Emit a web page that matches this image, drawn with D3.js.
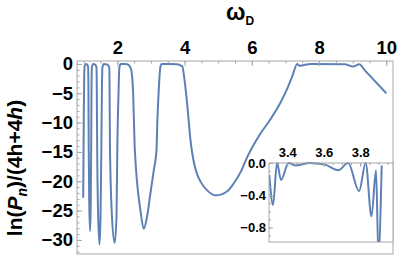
<!DOCTYPE html>
<html>
<head>
<meta charset="utf-8">
<script src="https://cdn.jsdelivr.net/npm/d3@7"></script>
<style>
  body { margin: 0; background: #fff; }
  svg { display: block; font-family: "Liberation Sans", Arial, sans-serif; }
</style>
</head>
<body>
<div id="container"></div>
<script>
let w = 399;
let h = 256;

// main curve: omega_D and ln(P_n)/(4h+4h)
let mainOmega = [0.985, 0.993, 1.003, 1.015, 1.03, 1.06, 1.10, 1.13,
  1.14, 1.148, 1.165, 1.19, 1.208, 1.222, 1.232, 1.245,
  1.28, 1.34, 1.38,
  1.39, 1.40, 1.43, 1.47, 1.50, 1.525, 1.54, 1.555,
  1.60, 1.70, 1.76,
  1.77, 1.78, 1.84, 1.92, 1.975, 2.0, 2.035, 2.06,
  2.10, 2.25, 2.36,
  2.42, 2.47, 2.515, 2.55, 2.60, 2.685, 2.785, 2.885, 2.985, 3.085, 3.165, 3.19, 3.235, 3.28, 3.32,
  3.45, 3.6, 3.75, 3.85, 3.9, 3.93,
  3.98, 4.08, 4.18, 4.26, 4.35, 4.48, 4.68, 4.925, 5.27, 5.47, 5.67, 5.87, 6.22, 6.57, 6.87, 7.07, 7.21, 7.35,
  7.42, 7.76, 8.76, 9.01, 9.2, 9.35, 9.6, 10.0];
let mainValue = [-22.8, -16, -8, -2, -0.3, 0, -0.1, -0.5,
  -4, -14, -24, -28.5, -24, -14, -4, -0.5,
  0, -0.1, -0.6,
  -5, -14, -26, -30.8, -26, -14, -5, -0.6,
  0, -0.1, -0.6,
  -5, -14, -26, -30.5, -26, -14, -5, -0.6,
  0, 0, -0.3,
  -1.2, -5, -14, -17.5, -21, -24.9, -28.1, -26, -22, -18.1, -14.7, -9.8, -4.1, -0.5, 0,
  0, 0, -0.05, -0.15, -0.35, -0.3,
  -1.9, -7, -13.2, -16.3, -18.4, -20.1, -21.6, -22.4, -21.7, -20.3, -18.4, -15.8, -12.2, -9.3, -6.4, -4.0, -2.0, 0,
  -0.3, 0, -0.05, -0.45, -0.05, -1.0, -2.55, -5.0];

// inset: zoom of the top of the plateau near omega_D = 3.6
let insetOmega = [3.302, 3.322, 3.344, 3.366, 3.407, 3.444, 3.525, 3.607, 3.68, 3.734,
  3.794, 3.83, 3.862, 3.887, 3.9, 3.918];
let insetValue = [-0.15, -0.52, 0, -0.21, 0, -0.03, 0, -0.02, -0.09, 0,
  -0.35, 0, -0.66, -0.09, -1.15, -0.03];

let xTicks = [2, 4, 6, 8, 10];
let yTicks = [0, -5, -10, -15, -20, -25, -30];
let insetXTicks = [3.4, 3.6, 3.8];
let insetYTicks = [0, -0.4, -0.8];

let lineColor = "#5e81b5";
let frameColor = "#a6a6a6";

let svg = d3.select("#container")
  .append("svg")
  .attr("width", w)
  .attr("height", h);

// ---- main plot ----
let pLeft = 77, pRight = 393, pTop = 61, pBottom = 254;

let xScale = d3.scaleLinear().domain([0.8, 10.2]).range([pLeft, pRight]);
let yScale = d3.scaleLinear().domain([-32.4, 0.5]).range([pBottom, pTop]);

svg.append("defs").append("clipPath").attr("id", "mainClip")
  .append("rect")
  .attr("x", pLeft).attr("y", pTop)
  .attr("width", pRight - pLeft).attr("height", pBottom - pTop);

let mainData = mainOmega.map((d, i) => ({ x: d, y: mainValue[i] }));

let line = d3.line()
  .x(d => xScale(d.x))
  .y(d => yScale(d.y))
  .curve(d3.curveMonotoneX);

svg.append("path")
  .attr("d", line(mainData))
  .attr("clip-path", "url(#mainClip)")
  .attr("fill", "none")
  .attr("stroke", lineColor)
  .attr("stroke-width", 2)
  .attr("stroke-linejoin", "round");

// frame
svg.append("rect")
  .attr("x", pLeft).attr("y", pTop)
  .attr("width", pRight - pLeft).attr("height", pBottom - pTop)
  .attr("fill", "none")
  .attr("stroke", frameColor)
  .attr("stroke-width", 1);

function styleAxis(g, size) {
  g.select(".domain").remove();
  g.selectAll("line").attr("stroke", frameColor);
  g.selectAll("text")
    .attr("fill", "black")
    .attr("font-weight", "bold")
    .attr("font-size", size);
}

// minor ticks
svg.append("g")
  .attr("transform", "translate(0," + pTop + ")")
  .call(d3.axisTop(xScale).tickValues(d3.range(1, 10.01, 0.5)).tickSize(-2.5).tickFormat(""))
  .call(g => styleAxis(g, 0));
svg.append("g")
  .attr("transform", "translate(" + pLeft + ",0)")
  .call(d3.axisLeft(yScale).tickValues(d3.range(-32, 0.5, 1)).tickSize(-2.5).tickFormat(""))
  .call(g => styleAxis(g, 0));

// major ticks
svg.append("g")
  .attr("transform", "translate(0," + pTop + ")")
  .call(d3.axisTop(xScale).tickValues(xTicks).tickSize(-5).tickPadding(7).tickFormat(d3.format("d")))
  .call(g => styleAxis(g, "18.5px"));
svg.append("g")
  .attr("transform", "translate(" + pLeft + ",0)")
  .call(d3.axisLeft(yScale).tickValues(yTicks).tickSize(-5).tickPadding(4).tickFormat(d3.format("d")))
  .call(g => styleAxis(g, "18.5px"));

// axis labels
let xLabel = svg.append("text")
  .attr("x", 226)
  .attr("y", 20)
  .attr("font-weight", "bold")
  .attr("font-size", "23px");
xLabel.append("tspan").text("ω");
xLabel.append("tspan").attr("font-size", "12px").attr("dy", 5).text("D");

let yLabel = svg.append("text")
  .attr("transform", "translate(22,168) rotate(-90)")
  .attr("text-anchor", "middle")
  .attr("font-weight", "bold")
  .attr("font-size", "21px");
yLabel.append("tspan").text("ln(");
yLabel.append("tspan").attr("font-style", "italic").text("P");
yLabel.append("tspan").attr("font-style", "italic").attr("font-size", "14px").attr("dy", 5).text("n");
yLabel.append("tspan").attr("dy", -5).text(")/(4h+4");
yLabel.append("tspan").attr("font-style", "italic").text("h");
yLabel.append("tspan").text(")");

// ---- inset ----
let iLeft = 269, iRight = 393, iTop = 163, iBottom = 242;

let ixScale = d3.scaleLinear().domain([3.3, 3.98]).range([iLeft, iRight]);
let iyScale = d3.scaleLinear().domain([-0.98, 0]).range([iBottom, iTop]);

svg.append("rect")
  .attr("x", iLeft).attr("y", iTop)
  .attr("width", iRight - iLeft).attr("height", iBottom - iTop)
  .attr("fill", "white");

svg.select("defs").append("clipPath").attr("id", "insetClip")
  .append("rect")
  .attr("x", iLeft).attr("y", iTop - 2)
  .attr("width", iRight - iLeft).attr("height", iBottom - iTop + 2);

let insetData = insetOmega.map((d, i) => ({ x: d, y: insetValue[i] }));

let insetLine = d3.line()
  .x(d => ixScale(d.x))
  .y(d => iyScale(d.y))
  .curve(d3.curveMonotoneX);

svg.append("path")
  .attr("d", insetLine(insetData))
  .attr("clip-path", "url(#insetClip)")
  .attr("fill", "none")
  .attr("stroke", lineColor)
  .attr("stroke-width", 2)
  .attr("stroke-linejoin", "round");

svg.append("rect")
  .attr("x", iLeft).attr("y", iTop)
  .attr("width", iRight - iLeft).attr("height", iBottom - iTop)
  .attr("fill", "none")
  .attr("stroke", frameColor)
  .attr("stroke-width", 1);

svg.append("g")
  .attr("transform", "translate(0," + iTop + ")")
  .call(d3.axisTop(ixScale).tickValues(d3.range(3.35, 3.96, 0.05)).tickSize(-2).tickFormat(""))
  .call(g => styleAxis(g, 0));
svg.append("g")
  .attr("transform", "translate(" + iLeft + ",0)")
  .call(d3.axisLeft(iyScale).tickValues(d3.range(-0.9, 0, 0.1)).tickSize(-2).tickFormat(""))
  .call(g => styleAxis(g, 0));

svg.append("g")
  .attr("transform", "translate(0," + iTop + ")")
  .call(d3.axisTop(ixScale).tickValues(insetXTicks).tickSize(-4).tickPadding(6).tickFormat(d3.format(".1f")))
  .call(g => styleAxis(g, "13px"));
svg.append("g")
  .attr("transform", "translate(" + iLeft + ",0)")
  .call(d3.axisLeft(iyScale).tickValues(insetYTicks).tickSize(-4).tickPadding(3).tickFormat(d3.format(".1f")))
  .call(g => styleAxis(g, "13px"));
</script>
</body>
</html>
